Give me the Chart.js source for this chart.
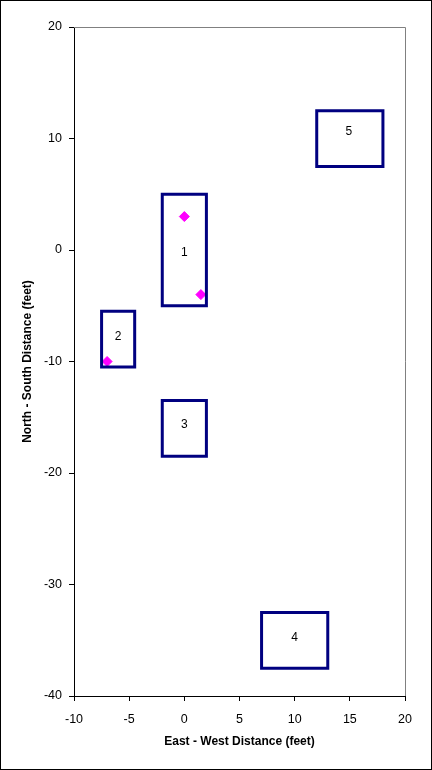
<!DOCTYPE html>
<html>
<head>
<meta charset="utf-8">
<script src="https://cdn.jsdelivr.net/npm/chart.js@4.4.1/dist/chart.umd.min.js"></script>
<style>
  html, body { margin: 0; padding: 0; background: #fff; }
  canvas { display: block; }
</style>
</head>
<body>
<canvas id="plan" width="432" height="770"></canvas>
<script>
// ── Données ─────────────────────────────────────────────
var boxNames  = ['1', '2', '3', '4', '5'];
var boxLeft   = [-2, -7.5, -2, 7, 12];
var boxRight  = [2, -4.5, 2, 13, 18];
var boxBottom = [-5, -10.5, -18.5, -37.5, 7.5];
var boxTop    = [5, -5.5, -13.5, -32.5, 12.5];
var labelX    = [0, -6, 0, 10, 14.9];
var labelY    = [-0.2, -7.8, -15.7, -34.8, 10.6];

var pointX = [0, 1.5, -7];
var pointY = [3, -4, -10];

var xTicks = [-10, -5, 0, 5, 10, 15, 20];
var yTicks = [-40, -30, -20, -10, 0, 10, 20];

var FONT = '"Liberation Sans", Arial, sans-serif';

// ── Datasets ────────────────────────────────────────────
var datasets = boxNames.map(function (n, i) {
    return {
        label: 'Box ' + n,
        data: [
            { x: boxLeft[i],  y: boxBottom[i] },
            { x: boxLeft[i],  y: boxTop[i] },
            { x: boxRight[i], y: boxTop[i] },
            { x: boxRight[i], y: boxBottom[i] },
            { x: boxLeft[i],  y: boxBottom[i] }
        ],
        showLine: true,
        borderColor: '#000080',
        borderWidth: 3,
        borderJoinStyle: 'miter',
        borderCapStyle: 'square',
        pointRadius: 0,
        fill: false
    };
});
datasets.push({
    label: 'Points',
    data: pointX.map(function (x, i) { return { x: x, y: pointY[i] }; }),
    showLine: false,
    pointStyle: 'rectRot',
    pointRadius: 5,
    backgroundColor: '#FF00FF',
    borderColor: '#FF00FF',
    borderWidth: 1
});

// ── Plugins ─────────────────────────────────────────────
var framePlugin = {
    id: 'frame',
    beforeDraw: function (chart) {
        var c = chart.ctx;
        c.save();
        c.fillStyle = '#fff';
        c.fillRect(0, 0, chart.width, chart.height);
        c.restore();
    },
    afterDraw: function (chart) {
        var c = chart.ctx, a = chart.chartArea;
        c.save();
        c.strokeStyle = '#808080';
        c.lineWidth = 1;
        c.beginPath();
        c.moveTo(a.left, Math.round(a.top) + 0.5);
        c.lineTo(Math.round(a.right) + 0.5, Math.round(a.top) + 0.5);
        c.lineTo(Math.round(a.right) + 0.5, a.bottom);
        c.stroke();
        c.strokeStyle = '#000';
        c.strokeRect(0.5, 0.5, chart.width - 1, chart.height - 1);
        c.restore();
    }
};

var labelPlugin = {
    id: 'boxLabels',
    afterDatasetsDraw: function (chart) {
        var c = chart.ctx, sx = chart.scales.x, sy = chart.scales.y;
        c.save();
        c.fillStyle = '#000';
        c.font = '12px ' + FONT;
        c.textAlign = 'center';
        c.textBaseline = 'middle';
        boxNames.forEach(function (n, i) {
            c.fillText(n, sx.getPixelForValue(labelX[i]), sy.getPixelForValue(labelY[i]));
        });
        c.restore();
    }
};

// ── Rendu ───────────────────────────────────────────────
new Chart(document.getElementById('plan'), {
    type: 'scatter',
    data: { datasets: datasets },
    plugins: [framePlugin, labelPlugin],
    options: {
        responsive: false,
        animation: false,
        layout: { padding: { top: 27, right: 27, left: 0, bottom: 0 } },
        plugins: {
            legend: { display: false },
            tooltip: { enabled: false }
        },
        scales: {
            x: {
                type: 'linear',
                min: -10, max: 20,
                afterFit: function (s) { s.height = 74; },
                afterBuildTicks: function (s) { s.ticks = xTicks.map(function (v) { return { value: v }; }); },
                grid: { drawOnChartArea: false, tickLength: 5, color: '#000' },
                border: { color: '#000', width: 1 },
                ticks: { color: '#000', padding: 11, maxRotation: 0, font: { family: FONT, size: 12.5 } },
                title: {
                    display: true,
                    text: 'East - West Distance (feet)',
                    color: '#000',
                    font: { family: FONT, size: 12, weight: 'bold' },
                    padding: { top: 0, bottom: 21 }
                }
            },
            y: {
                type: 'linear',
                min: -40, max: 20,
                afterFit: function (s) { s.width = 74; },
                afterBuildTicks: function (s) { s.ticks = yTicks.map(function (v) { return { value: v }; }); },
                grid: { drawOnChartArea: false, tickLength: 5, color: '#000' },
                border: { color: '#000', width: 1 },
                ticks: { color: '#000', padding: 7, font: { family: FONT, size: 12.5 } },
                title: {
                    display: true,
                    text: 'North - South Distance (feet)',
                    color: '#000',
                    font: { family: FONT, size: 12, weight: 'bold' },
                    padding: { top: 20, bottom: 0 }
                }
            }
        }
    }
});
</script>
</body>
</html>
